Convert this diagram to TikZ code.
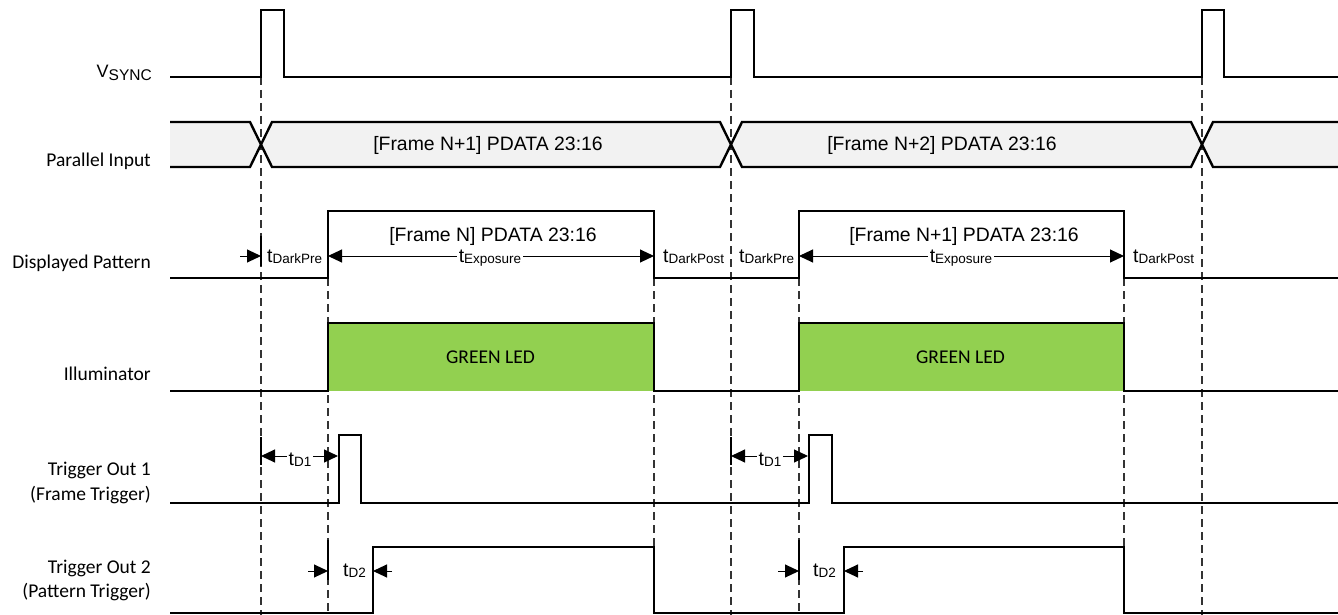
\documentclass[tikz,border=0pt]{standalone}
\usepackage{fontspec}
\setmainfont{Carlito}
\newfontfamily\arialf{Liberation Sans}
\usetikzlibrary{arrows.meta}
\definecolor{busgray}{HTML}{F2F2F2}
\definecolor{ledgreen}{HTML}{92D050}
\definecolor{dashgray}{HTML}{333333}
\newcommand\tsubl[1]{{\arialf\fontsize{19.4}{20}\selectfont t\raisebox{-1pt}{\fontsize{13.5}{14}\selectfont #1}}}
\newcommand\sigfont{\fontsize{19.5}{24.3}\selectfont}
\newcommand\datafont{\arialf\fontsize{19.4}{22}\selectfont}
\tikzset{
  sig/.style={line width=2.4pt, line join=miter, black},
  guide/.style={line width=1.2pt, dashgray, dash pattern=on 8pt off 5pt},
  dim/.style={line width=1pt, black},
  tick/.style={line width=1.2pt, black},
  oneend/.style={dim, arrows={-Triangle[length=14pt,width=13pt]}},
  twoend/.style={dim, arrows={Triangle[length=14pt,width=13pt]-Triangle[length=14pt,width=13pt]}},
  lab/.style={font=\sigfont, anchor=base east, align=right, inner sep=0pt},
  dtext/.style={font=\datafont, anchor=base, inner sep=0pt},
  tlab/.style={anchor=base, fill=white, inner xsep=2pt, inner ysep=1pt},
  tlabw/.style={anchor=base west, inner sep=0pt},
}
\begin{document}
\begin{tikzpicture}[x=1pt,y=-1pt]
\fill[white] (0,0) rectangle (1338,615);
\useasboundingbox (0,0) rectangle (1338,615);

% bus fills
\fill[busgray] (170,122) -- (250,122) -- (261,144.5) -- (250,167) -- (170,167) -- cycle;
\fill[busgray] (272,122) -- (720,122) -- (731,144.5) -- (720,167) -- (272,167) -- (261,144.5) -- cycle;
\fill[busgray] (742,122) -- (1191,122) -- (1202,144.5) -- (1191,167) -- (742,167) -- (731,144.5) -- cycle;
\fill[busgray] (1213,122) -- (1338,122) -- (1338,167) -- (1213,167) -- (1202,144.5) -- cycle;

% green LED fills
\fill[ledgreen] (328,323) rectangle (654,391);
\fill[ledgreen] (799,323) rectangle (1124,391);

% guide lines
\foreach \x in {261,731,1202} \draw[guide] (\x,77) -- (\x,615);
\foreach \x in {328,654,799,1124} \draw[guide] (\x,278) -- (\x,615);

% signal labels
\node[lab] (lvs) at (152,78) {{\arialf\fontsize{18}{20}\selectfont V\raisebox{-3pt}{\fontsize{15.5}{16}\selectfont SYNC}}};
\node[lab] (lpi) at (151,166) {Parallel Input};
\node[lab] (ldp) at (151,268) {Displayed Pattern};
\node[lab] (lil) at (151,380.5) {Illuminator};
\node[lab, anchor=east] (lt1) at (151,483) {Trigger Out 1\\(Frame Trigger)};
\node[lab, anchor=east] (lt2) at (151,580.5) {Trigger Out 2\\(Pattern Trigger)};

% VSYNC
\draw[sig] (170,77) -- (261,77) -- (261,10) -- (284,10) -- (284,77) -- (731,77) -- (731,10) -- (754,10) -- (754,77)
  -- (1202,77) -- (1202,10) -- (1224,10) -- (1224,77) -- (1338,77);

% Parallel input bus
\draw[sig] (170,122) -- (250,122) -- (272,167) -- (720,167) -- (742,122) -- (1191,122) -- (1213,167) -- (1338,167);
\draw[sig] (170,167) -- (250,167) -- (272,122) -- (720,122) -- (742,167) -- (1191,167) -- (1213,122) -- (1338,122);
\node[dtext] (bus1) at (488,150) {[Frame N+1] PDATA 23:16};
\node[dtext] (bus2) at (942,150) {[Frame N+2] PDATA 23:16};

% Displayed pattern
\draw[sig] (170,278) -- (328,278) -- (328,211) -- (654,211) -- (654,278) -- (799,278) -- (799,211) -- (1124,211)
  -- (1124,278) -- (1338,278);
\node[dtext] (dp1) at (493,241) {[Frame N] PDATA 23:16};
\node[dtext] (dp2) at (964,241) {[Frame N+1] PDATA 23:16};

% Illuminator
\draw[sig] (170,391) -- (328,391) -- (328,323) -- (654,323) -- (654,391) -- (799,391) -- (799,323) -- (1124,323)
  -- (1124,391) -- (1338,391);
\node[font=\sigfont, anchor=base, inner sep=0pt] (led1) at (490.5,363) {GREEN LED};
\node[font=\sigfont, anchor=base, inner sep=0pt] (led2) at (960.5,363) {GREEN LED};

% Trigger out 1
\draw[sig] (170,503) -- (339,503) -- (339,435) -- (361,435) -- (361,503) -- (809,503) -- (809,435) -- (832,435)
  -- (832,503) -- (1338,503);

% Trigger out 2
\draw[sig] (170,613) -- (373,613) -- (373,547) -- (654,547) -- (654,613) -- (844,613) -- (844,547) -- (1124,547)
  -- (1124,613) -- (1338,613);

% --- dimension annotations ---
% tDarkPre (first)
\coordinate (dpa0) at (240,256);
\coordinate (dpa1) at (261,256);
\draw[tick] (261,236) -- (261,266);
\draw[oneend] (dpa0) -- (dpa1);
\node[tlabw] (tdpre1) at (267,262) {\tsubl{DarkPre}};
\node[tlabw] (tdpost1) at (663,262) {\tsubl{DarkPost}};
\node[tlabw] (tdpre2) at (739,262) {\tsubl{DarkPre}};
\node[tlabw] (tdpost2) at (1133,262) {\tsubl{DarkPost}};

% tExposure
\coordinate (ex1a) at (328,256);
\coordinate (ex1b) at (654,256);
\coordinate (ex2a) at (799,256);
\coordinate (ex2b) at (1124,256);
\draw[twoend] (ex1a) -- (ex1b);
\draw[twoend] (ex2a) -- (ex2b);
\node[tlab] (texp1) at (490,262) {\tsubl{Exposure}};
\node[tlab] (texp2) at (961,262) {\tsubl{Exposure}};

% tD1
\coordinate (d1a) at (261,456);
\coordinate (d1b) at (338,456);
\coordinate (d1c) at (731,456);
\coordinate (d1d) at (808,456);
\draw[tick] (261,437) -- (261,465);
\draw[tick] (731,437) -- (731,465);
\draw[twoend] (d1a) -- (d1b);
\draw[twoend] (d1c) -- (d1d);
\node[tlab] (td1a) at (300,465) {\tsubl{D1}};
\node[tlab] (td1b) at (770,465) {\tsubl{D1}};

% tD2
\coordinate (d2a) at (308,571);
\coordinate (d2b) at (328,571);
\coordinate (d2c) at (392,571);
\coordinate (d2d) at (373,571);
\coordinate (d2e) at (778,571);
\coordinate (d2f) at (799,571);
\coordinate (d2g) at (863,571);
\coordinate (d2h) at (844,571);
\draw[tick] (328,540) -- (328,580);
\draw[tick] (799,540) -- (799,580);
\draw[oneend] (d2a) -- (d2b);
\draw[oneend] (d2c) -- (d2d);
\draw[oneend] (d2e) -- (d2f);
\draw[oneend] (d2g) -- (d2h);
\node[tlabw] (td2a) at (343,576) {\tsubl{D2}};
\node[tlabw] (td2b) at (813,576) {\tsubl{D2}};
\end{tikzpicture}
\end{document}
